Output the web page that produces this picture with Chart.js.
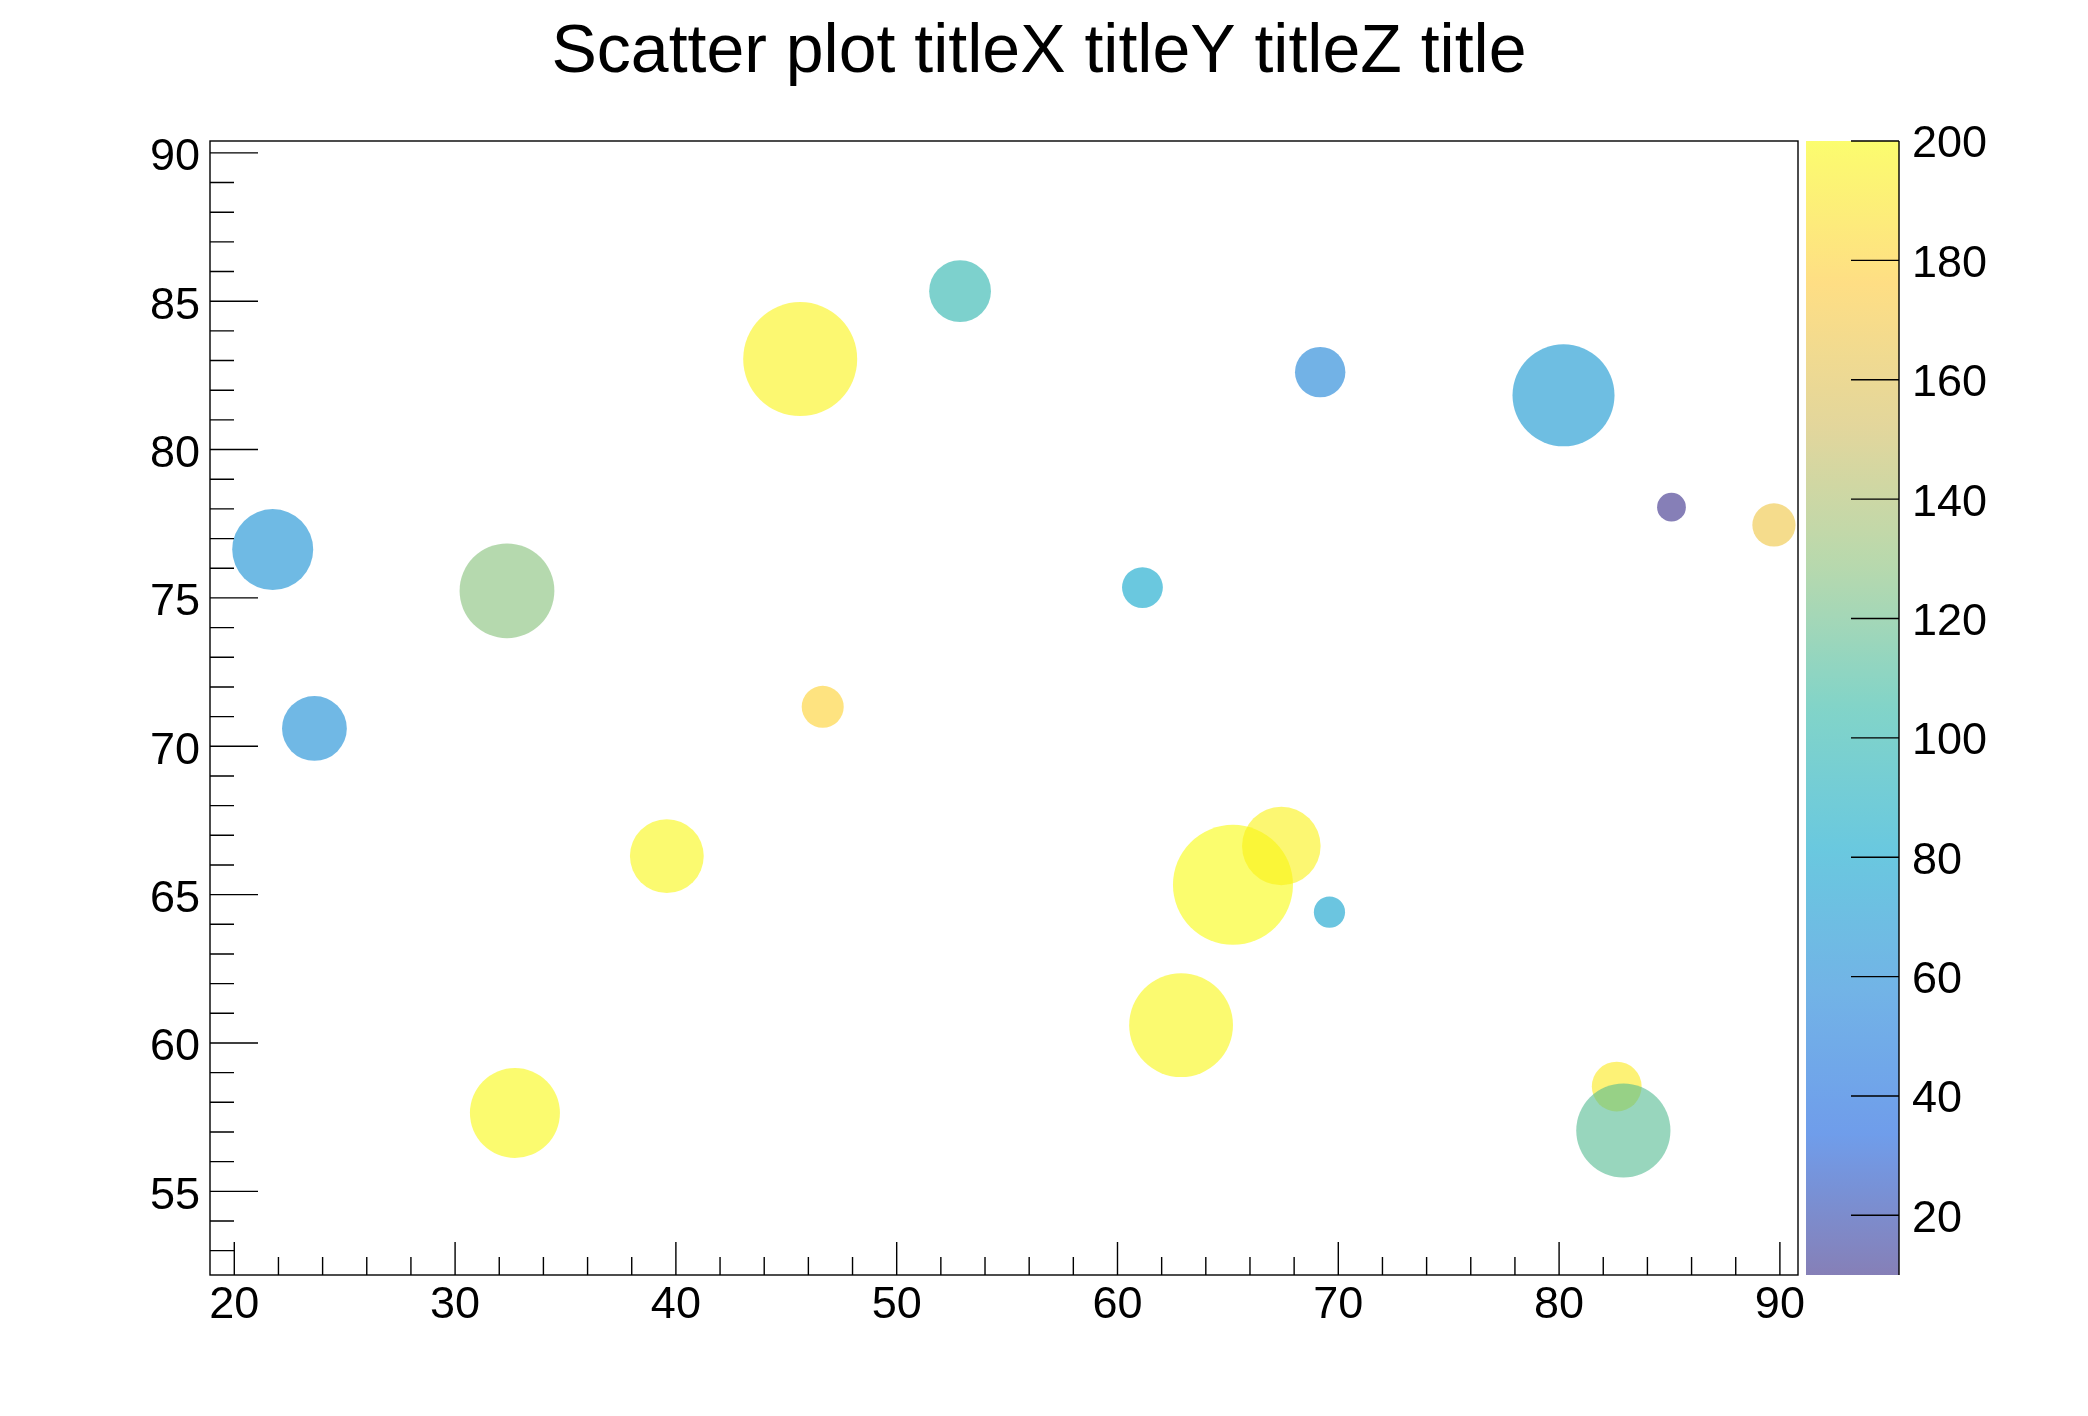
<!DOCTYPE html>
<html>
<head>
<meta charset="utf-8">
<script src="https://cdn.jsdelivr.net/npm/chart.js@4.4.1/dist/chart.umd.min.js"></script>
<style>
html, body { margin: 0; padding: 0; background: #ffffff; }
canvas { display: block; }
</style>
</head>
<body>
<canvas id="c" width="2088" height="1416"></canvas>
<script>
// ---- data ----
const chartTitle = "Scatter plot titleX titleY titleZ title";
const xValues = [21.74, 23.63, 32.35, 32.71, 39.59, 45.63, 46.65, 52.87, 61.13, 62.88, 65.23, 67.42, 69.18, 69.60, 80.20, 82.61, 82.91, 85.09, 89.73];
const yValues = [76.63, 70.60, 75.24, 57.64, 66.30, 83.05, 71.33, 85.34, 75.35, 60.60, 65.33, 66.64, 82.61, 64.41, 81.83, 58.53, 57.05, 78.06, 77.46];
const zValues = [65, 63, 128, 199, 198, 197, 180, 100, 82, 198, 200, 196, 56, 78, 70, 192, 115, 10, 168];
const sizeValues = [13.5, 10.8, 15.8, 15.0, 12.3, 19.0, 7.0, 10.3, 6.8, 17.3, 20.0, 13.1, 8.4, 5.2, 17.0, 8.3, 15.7, 4.8, 7.2];
const xTicks = [20, 30, 40, 50, 60, 70, 80, 90];
const yTicks = [55, 60, 65, 70, 75, 80, 85, 90];
const zTicks = [20, 40, 60, 80, 100, 120, 140, 160, 180, 200];
const xRange = [18.9, 90.82];
const yRange = [52.18, 90.40];
const zRange = [10, 200];

// ---- ROOT kBird palette ----
const birdStops = [0.0000, 0.1250, 0.2500, 0.3750, 0.5000, 0.6250, 0.7500, 0.8750, 1.0000];
const birdRed   = [0.2082, 0.0592, 0.0780, 0.0232, 0.1802, 0.5301, 0.8186, 0.9956, 0.9764];
const birdGreen = [0.1664, 0.3599, 0.5041, 0.6419, 0.7178, 0.7492, 0.7328, 0.7862, 0.9832];
const birdBlue  = [0.5293, 0.8684, 0.8385, 0.7914, 0.6425, 0.4662, 0.3499, 0.1968, 0.0539];
const ALPHA = 0.6;
const MARKER_SCALE = 3;
const FONT = "'Liberation Sans', Arial, Helvetica, sans-serif";

function paletteColor(f, alpha) {
  f = Math.max(0, Math.min(1, f));
  let i = 0;
  while (i < birdStops.length - 2 && f > birdStops[i + 1]) i++;
  const t = (f - birdStops[i]) / (birdStops[i + 1] - birdStops[i]);
  const c = (arr) => Math.round(255 * (arr[i] + t * (arr[i + 1] - arr[i])));
  return `rgba(${c(birdRed)},${c(birdGreen)},${c(birdBlue)},${alpha})`;
}
function zColor(z) {
  return paletteColor((z - zRange[0]) / (zRange[1] - zRange[0]), ALPHA);
}

const points = xValues.map((x, i) => ({ x: x, y: yValues[i] }));

const rootDecor = {
  id: 'rootDecor',
  beforeDatasetsDraw(chart) {
    const { ctx, chartArea: a, scales } = chart;
    const z = scales.z;
    ctx.save();
    // colour bar
    const bx0 = a.right + 8, bx1 = a.right + 101;
    const yb = z.getPixelForValue(zRange[0]);
    const yt = z.getPixelForValue(zRange[1]);
    const g = ctx.createLinearGradient(0, yb, 0, yt);
    for (let k = 0; k <= 64; k++) {
      const f = k / 64;
      g.addColorStop(f, paletteColor(f, ALPHA));
    }
    ctx.fillStyle = g;
    ctx.fillRect(bx0, yt, bx1 - bx0, yb - yt);
    ctx.restore();
  },
  afterDatasetsDraw(chart) {
    const { ctx, chartArea: a, scales } = chart;
    const x = scales.x, y = scales.y, z = scales.z;
    ctx.save();
    ctx.strokeStyle = '#000';
    ctx.lineWidth = 1.4;
    // frame
    ctx.strokeRect(a.left, a.top, a.right - a.left, a.bottom - a.top);
    ctx.beginPath();
    // x ticks (inside, upward)
    for (let v = Math.ceil(x.min / 2) * 2; v <= x.max; v += 2) {
      const px = x.getPixelForValue(v);
      const len = (v % 10 === 0) ? 33 : 18;
      ctx.moveTo(px, a.bottom);
      ctx.lineTo(px, a.bottom - len);
    }
    // y ticks (inside, rightward)
    for (let v = Math.ceil(y.min); v <= y.max; v += 1) {
      const py = y.getPixelForValue(v);
      const len = (v % 5 === 0) ? 48 : 24;
      ctx.moveTo(a.left, py);
      ctx.lineTo(a.left + len, py);
    }
    // colour bar axis
    const bx1 = a.right + 101;
    ctx.moveTo(bx1, z.getPixelForValue(zRange[0]));
    ctx.lineTo(bx1, z.getPixelForValue(zRange[1]));
    zTicks.forEach(v => {
      const py = z.getPixelForValue(v);
      ctx.moveTo(bx1, py);
      ctx.lineTo(bx1 - 48, py);
    });
    ctx.stroke();
    // title
    ctx.fillStyle = '#000';
    ctx.font = `68px ${FONT}`;
    ctx.textAlign = 'center';
    ctx.textBaseline = 'alphabetic';
    ctx.fillText(chartTitle, 1039, 71.5);
    ctx.restore();
  }
};

const tickFont = { family: FONT, size: 45 };

new Chart(document.getElementById('c'), {
  type: 'scatter',
  data: {
    datasets: [{
      data: points,
      pointRadius: (ctx) => sizeValues[ctx.dataIndex] * MARKER_SCALE,
      pointHoverRadius: (ctx) => sizeValues[ctx.dataIndex] * MARKER_SCALE,
      backgroundColor: (ctx) => zColor(zValues[ctx.dataIndex]),
      borderWidth: 0,
      pointBorderWidth: 0,
      clip: false
    }]
  },
  options: {
    responsive: false,
    animation: false,
    devicePixelRatio: 1,
    events: [],
    layout: { padding: { top: 141, left: 0, right: 0, bottom: 0 } },
    plugins: {
      legend: { display: false },
      title: { display: false },
      tooltip: { enabled: false }
    },
    scales: {
      x: {
        type: 'linear',
        position: 'bottom',
        min: xRange[0], max: xRange[1],
        grid: { display: false, drawTicks: false },
        border: { display: false },
        ticks: { font: tickFont, color: '#000', padding: 4, maxRotation: 0, autoSkip: false },
        afterBuildTicks: (s) => { s.ticks = xTicks.map(v => ({ value: v })); },
        afterFit: (s) => { s.height = 141; }
      },
      y: {
        type: 'linear',
        position: 'left',
        min: yRange[0], max: yRange[1],
        grid: { display: false, drawTicks: false },
        border: { display: false },
        ticks: { font: tickFont, color: '#000', padding: 10, labelOffset: 5, autoSkip: false },
        afterBuildTicks: (s) => { s.ticks = yTicks.map(v => ({ value: v })); },
        afterFit: (s) => { s.width = 210; }
      },
      z: {
        type: 'linear',
        position: 'right',
        min: zRange[0], max: zRange[1],
        grid: { display: false, drawTicks: false },
        border: { display: false },
        ticks: { font: tickFont, color: '#000', padding: 114, labelOffset: 4, autoSkip: false },
        afterBuildTicks: (s) => { s.ticks = zTicks.map(v => ({ value: v })); },
        afterFit: (s) => { s.width = 290; }
      }
    }
  },
  plugins: [rootDecor]
});
</script>
</body>
</html>
